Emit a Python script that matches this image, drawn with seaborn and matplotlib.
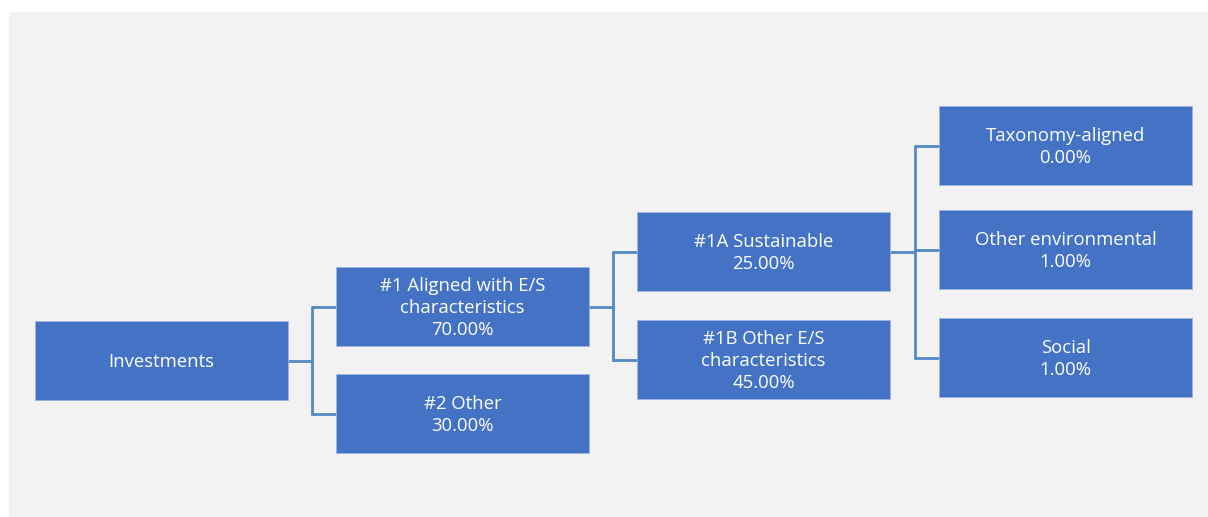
import matplotlib
matplotlib.use("Agg")
import matplotlib.pyplot as plt
import seaborn as sns
from matplotlib.patches import Rectangle

# ---- data ----
labels = ["Investments",
          "#1 Aligned with E/S\ncharacteristics",
          "#2 Other",
          "#1A Sustainable",
          "#1B Other E/S\ncharacteristics",
          "Taxonomy-aligned",
          "Other environmental",
          "Social"]
shares = [None, 70.00, 30.00, 25.00, 45.00, 0.00, 1.00, 1.00]
parents = [None, 0, 0, 1, 1, 3, 3, 3]

# ---- layout (pixels) ----
levels = [0, 1, 1, 2, 2, 3, 3, 3]
level_left = [35, 336, 637, 939]
box_w = 253
box_h = 79
box_top = [321, 267, 374, 212, 320, 106, 210, 318]

W, H = 1208, 517
sns.set_style("white")
plt.rcParams['font.family'] = ['Open Sans', 'DejaVu Sans']

fig = plt.figure(figsize=(W / 100, H / 100), dpi=100)
fig.patch.set_facecolor("white")
ax = fig.add_axes([0, 0, 1, 1])
ax.set_xlim(0, W)
ax.set_ylim(H, 0)
ax.axis("off")

ax.add_patch(Rectangle((9, 12), W - 9, H - 12, facecolor="#F2F2F2", edgecolor="none", zorder=0))

box_color = "#4472C4"
line_color = "#5289C2"

def center(i):
    x = level_left[levels[i]]
    return x, box_top[i] + box_h / 2

def seg(xs, ys):
    sns.lineplot(x=xs, y=ys, ax=ax, color=line_color, lw=2.0, zorder=1,
                 sort=False, estimator=None, errorbar=None)

# connectors
for p in sorted(set(q for q in parents if q is not None)):
    kids = [i for i, q in enumerate(parents) if q == p]
    px, py = center(p)
    pr = px + box_w
    cl = level_left[levels[kids[0]]]
    ex = (pr + cl) / 2
    ys = [center(k)[1] for k in kids]
    seg([pr, ex], [py, py])
    seg([ex, ex], [min(ys), max(ys)])
    for yk in ys:
        seg([ex, cl], [yk, yk])

# boxes
for i, lab in enumerate(labels):
    x = level_left[levels[i]]
    y = box_top[i]
    ax.add_patch(Rectangle((x, y), box_w, box_h, facecolor=box_color,
                           edgecolor="#9DB5E0", lw=0.6, zorder=2))
    txt = lab if shares[i] is None else f"{lab}\n{shares[i]:.2f}%"
    ax.text(x + box_w / 2, y + box_h / 2 + 1.5, txt, ha="center", va="center",
            color="white", fontsize=13.3, linespacing=1.3, zorder=3)

ax.set_xlim(0, W)
ax.set_ylim(H, 0)
fig.savefig("out.png", dpi=100, facecolor="white")
